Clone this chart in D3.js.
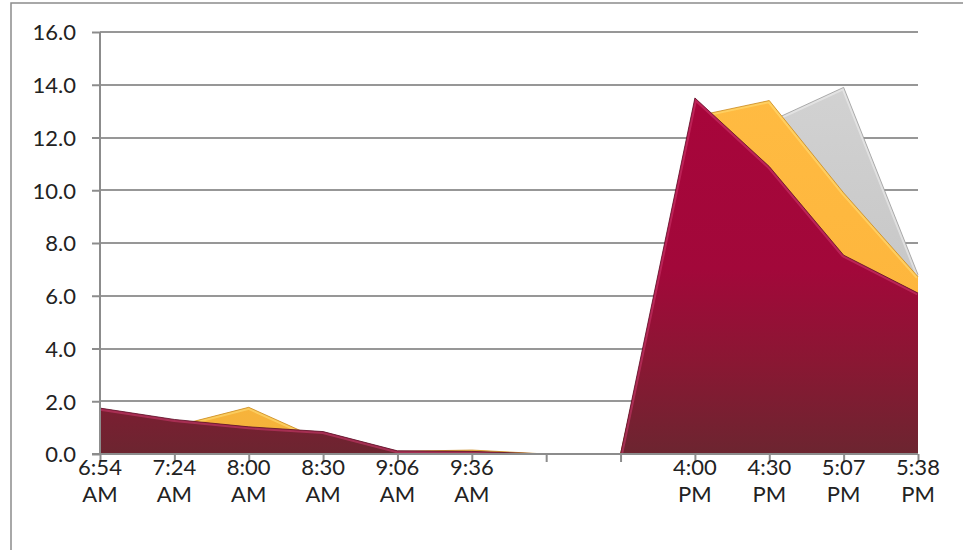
<!DOCTYPE html>
<html>
<head>
<meta charset="utf-8">
<script src="https://cdn.jsdelivr.net/npm/d3@7/dist/d3.min.js"></script>
<style>
  html, body { margin: 0; padding: 0; background: #fff; }
  svg { display: block; }
  text { font-family: Lato, "Open Sans", sans-serif; fill: #222; }
</style>
</head>
<body>
<script>
// ---- data ----
const categories = ["6:54 AM", "7:24 AM", "8:00 AM", "8:30 AM", "9:06 AM", "9:36 AM", "", "", "4:00 PM", "4:30 PM", "5:07 PM", "5:38 PM"];
const seriesGrey    = [1.5, 1.0, 0.9, 0.4, 0.05, 0.05, 0, 0, 12.4, 12.6, 13.9, 6.8];
const seriesOrange  = [1.6, 1.05, 1.77, 0.5, 0.1, 0.15, 0, 0, 12.8, 13.4, 9.9, 6.72];
const seriesCrimson = [1.74, 1.31, 1.03, 0.85, 0.12, 0.1, 0, 0, 13.5, 10.9, 7.54, 6.1];
const yTicks = [0, 2, 4, 6, 8, 10, 12, 14, 16];

const W = 963, H = 550;
const svg = d3.select("body").append("svg").attr("width", W).attr("height", H);
const defs = svg.append("defs");

// outer frame
svg.append("rect").attr("x", 11).attr("y", 3).attr("width", 965).attr("height", 570)
  .attr("fill", "#fff").attr("stroke", "#8c8c8c").attr("stroke-width", 1.5);

const x = d3.scalePoint().domain(d3.range(categories.length)).range([100, 918]);
const y = d3.scaleLinear().domain([0, 16]).range([454, 32]);

// gridlines
svg.append("g").selectAll("line").data(yTicks.filter(d => d > 0)).join("line")
  .attr("x1", 100).attr("x2", 918)
  .attr("y1", d => Math.round(y(d))).attr("y2", d => Math.round(y(d)))
  .attr("stroke", "#979797").attr("stroke-width", 2);

// gradients
function grad(id, stops) {
  const g = defs.append("linearGradient").attr("id", id)
    .attr("gradientUnits", "userSpaceOnUse")
    .attr("x1", 0).attr("y1", y(14)).attr("x2", 0).attr("y2", y(0));
  stops.forEach(s => g.append("stop").attr("offset", s[0]).attr("stop-color", s[1]));
}
grad("gGrey", [[0, "#d2d2d2"], [0.6, "#c6c6c6"], [1, "#b8b8b8"]]);
grad("gOrange", [[0, "#ffbb42"], [0.7, "#fdb53c"], [1, "#f3b23a"]]);
grad("gCrimson", [[0, "#a8053b"], [0.5, "#a2083a"], [0.75, "#8a1733"], [1, "#6c2530"]]);

const area = d3.area().x((d, i) => x(i)).y0(y(0)).y1(d => y(d));
const line = d3.line().x((d, i) => x(i)).y(d => y(d));

const series = [
  { id: "grey", values: seriesGrey, fill: "url(#gGrey)", hi: "#f1f1f1", edge: "#9a9a9a" },
  { id: "orange", values: seriesOrange, fill: "url(#gOrange)", hi: "#ffe07a", edge: "#c98a1f" },
  { id: "crimson", values: seriesCrimson, fill: "url(#gCrimson)", hi: "#cf3a70", edge: "#5e0f27" }
];

const gArea = svg.append("g");
series.forEach(s => {
  defs.append("clipPath").attr("id", "clip-" + s.id)
    .append("path").attr("d", area(s.values));
  gArea.append("path").attr("d", area(s.values)).attr("fill", s.fill);
  gArea.append("path").attr("d", line(s.values))
    .attr("fill", "none").attr("stroke", s.hi).attr("stroke-width", 5).attr("opacity", 0.55)
    .attr("clip-path", "url(#clip-" + s.id + ")").attr("stroke-linejoin", "round");
  gArea.append("path").attr("d", line(s.values))
    .attr("fill", "none").attr("stroke", s.edge).attr("stroke-width", 1).attr("opacity", 0.8)
    .attr("stroke-linejoin", "round");
});

// y axis
const yAxis = svg.append("g").attr("transform", "translate(100,0)")
  .call(d3.axisLeft(y).tickValues(yTicks).tickFormat(d3.format(".1f")).tickSize(8).tickPadding(16));
yAxis.select(".domain").attr("stroke", "#8c8c8c").attr("stroke-width", 2).attr("d", `M0,${y(16)}V${y(0)}`);
yAxis.selectAll(".tick line").attr("stroke", "#8c8c8c").attr("stroke-width", 2);
yAxis.selectAll(".tick text").attr("font-size", 22).attr("fill", "#222")
  .attr("font-family", "Lato, 'Open Sans', sans-serif").attr("dy", "0.36em");

// x axis
const xAxis = svg.append("g").attr("transform", `translate(0,${y(0)})`)
  .call(d3.axisBottom(x).tickSize(8).tickFormat(""));
xAxis.select(".domain").attr("stroke", "#8c8c8c").attr("stroke-width", 2).attr("d", `M92,0H918`);
xAxis.selectAll(".tick line").attr("stroke", "#8c8c8c").attr("stroke-width", 2);

const xl = svg.append("g").selectAll("text").data(categories).join("text")
  .attr("text-anchor", "middle").attr("font-size", 22).attr("fill", "#222")
  .attr("x", (d, i) => x(i));
xl.each(function(d) {
  const parts = d.split(" ");
  if (!d) return;
  const t = d3.select(this);
  t.append("tspan").attr("x", t.attr("x")).attr("y", 475).text(parts[0]);
  t.append("tspan").attr("x", t.attr("x")).attr("y", 502).text(parts[1]);
});
</script>
</body>
</html>
